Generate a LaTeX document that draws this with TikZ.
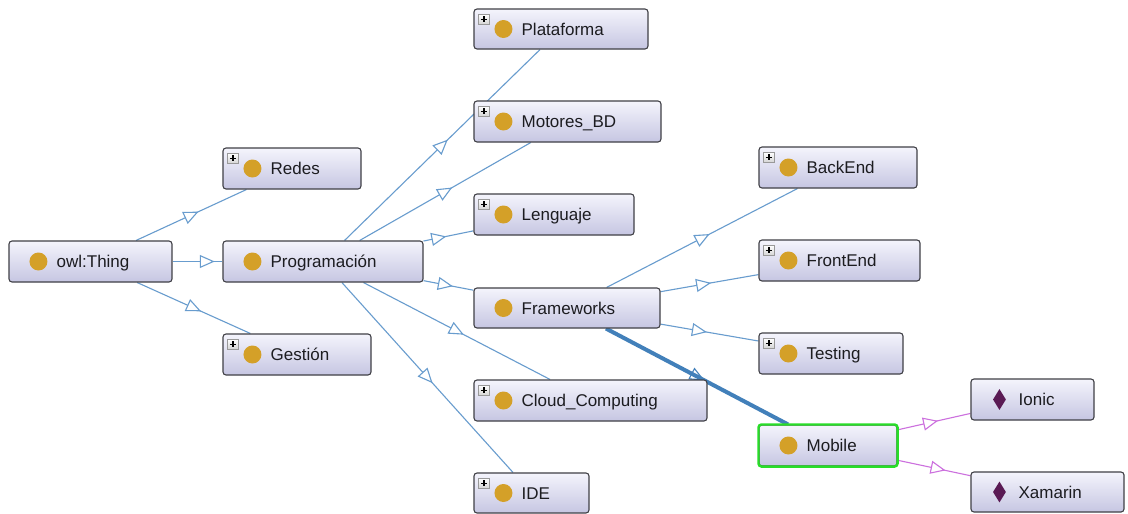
\documentclass[tikz,border=0pt]{standalone}
\usepackage{fontspec}
\setmainfont{Liberation Sans}
\usetikzlibrary{arrows.meta,decorations.markings,shapes.geometric}

\definecolor{boxtop}{RGB}{244,244,252}
\definecolor{boxbot}{RGB}{198,198,226}
\definecolor{boxline}{RGB}{64,64,70}
\definecolor{classdot}{RGB}{212,160,40}
\definecolor{indiv}{RGB}{90,26,84}
\definecolor{isaedge}{RGB}{104,156,206}
\definecolor{seledge}{RGB}{66,128,186}
\definecolor{instedge}{RGB}{204,112,222}
\definecolor{selgreen}{RGB}{40,222,40}
\definecolor{labeltext}{RGB}{28,28,32}

\pgfdeclarelayer{background}
\pgfsetlayers{background,main}

\tikzset{
  clsbox/.style={rectangle, rounded corners=3, draw=boxline, line width=1.1,
    top color=boxtop, bottom color=boxbot, inner sep=0},
  selbox/.style={draw=selgreen, line width=2.4, rounded corners=3},
  dot/.style={circle, fill=classdot, minimum size=18, inner sep=0},
  gem/.style={diamond, fill=indiv, minimum width=13, minimum height=21, inner sep=0},
  lbl/.style={inner sep=0, anchor=base west, text=labeltext,
    font=\fontsize{17}{20}\selectfont},
  plusicon/.style={rectangle, minimum size=10.5, inner sep=0, draw=gray!80,
    line width=0.6, top color=white, bottom color=gray!35,
    path picture={\draw[black, line width=1.1]
      (path picture bounding box.center) +(-3,0) -- +(3,0)
      (path picture bounding box.center) +(0,-3) -- +(0,3);}},
  % hollow triangle halfway between the two box centres
  midtip/.style={decoration={markings, mark=at position 0.5 with
      {\arrow[xshift=8pt]{Triangle[length=15pt, width=13pt, fill=white, line width=1.1pt]}}},
    postaction=decorate},
  isa/.style={draw=isaedge, line width=1.1},
  isasel/.style={draw=seledge, line width=4},
  inst/.style={draw=instedge, line width=1.1},
  isa tip/.style={color=isaedge, midtip},
  isasel tip/.style={color=seledge, midtip},
  inst tip/.style={color=instedge, midtip},
}

% box frame: name, left, top, right, bottom
\newcommand\frameat[5]{%
  \node[clsbox, minimum width={#4-#2}, minimum height={#5-#3}] (#1)
    at ({(#2+#4)/2},{(#3+#5)/2}) {};}
% class box: name, left, top, right, bottom, text
\newcommand\classbox[6]{%
  \frameat{#1}{#2}{#3}{#4}{#5}
  \node[dot] (#1-dot) at ([xshift=30]#1.west) {};
  \node[lbl] (#1-lbl) at ([xshift=48,yshift=-6.2]#1.west) {#6};}
% class box with an expand icon
\newcommand\classboxplus[6]{%
  \classbox{#1}{#2}{#3}{#4}{#5}{#6}
  \node[plusicon] (#1-plus) at ([xshift=10.5,yshift=-11]#1.north west) {};}
% individual box: name, left, top, right, bottom, text
\newcommand\indivbox[6]{%
  \frameat{#1}{#2}{#3}{#4}{#5}
  \node[gem] (#1-gem) at ([xshift=29]#1.west) {};
  \node[lbl] (#1-lbl) at ([xshift=48,yshift=-6.2]#1.west) {#6};}
% link: kind, from, to (triangle drawn over the line)
\newcommand\link[3]{%
  \draw[#1] (#2) -- (#3);
  \path[#1 tip] (#2.center) -- (#3.center);}
% selected link: the heavy line runs over its triangle
\newcommand\linkunder[3]{%
  \path[#1 tip] (#2.center) -- (#3.center);
  \draw[#1] (#2) -- (#3);}

\begin{document}
\begin{tikzpicture}[x=1pt, y=-1pt]
\useasboundingbox (0,0) rectangle (1128,514);

% class hierarchy
\classbox{thing}{9}{241}{172}{282}{owl:Thing}
\classboxplus{redes}{223}{148}{361}{189}{Redes}
\classbox{prog}{223}{241}{423}{282}{Programación}
\classboxplus{gestion}{223}{334}{371}{375}{Gestión}

\classboxplus{plataforma}{474}{9}{648}{49}{Plataforma}
\classboxplus{motores}{474}{101}{661}{142}{Motores\_BD}
\classboxplus{lenguaje}{474}{194}{634}{235}{Lenguaje}
\classbox{frameworks}{474}{288}{660}{328}{Frameworks}
\classboxplus{cloud}{474}{380}{707}{421}{Cloud\_Computing}
\classboxplus{ide}{474}{473}{589}{513}{IDE}

\classboxplus{backend}{759}{147}{917}{188}{BackEnd}
\classboxplus{frontend}{759}{240}{920}{281}{FrontEnd}
\classboxplus{testing}{759}{333}{903}{374}{Testing}
\classbox{mobile}{759}{425}{897}{466}{Mobile}
% selected class outline
\draw[selbox] (mobile.north west) rectangle (mobile.south east);

\indivbox{ionic}{971}{379}{1094}{420}{Ionic}
\indivbox{xamarin}{971}{472}{1124}{512}{Xamarin}

% white canvas, then subclass and instance links, all under the boxes
\begin{pgfonlayer}{background}
  \fill[white] (0,0) rectangle (1128,514);
  \link{isa}{thing}{redes}
  \link{isa}{thing}{prog}
  \link{isa}{thing}{gestion}
  \link{isa}{prog}{plataforma}
  \link{isa}{prog}{motores}
  \link{isa}{prog}{lenguaje}
  \link{isa}{prog}{frameworks}
  \link{isa}{prog}{cloud}
  \link{isa}{prog}{ide}
  \link{isa}{frameworks}{backend}
  \link{isa}{frameworks}{frontend}
  \link{isa}{frameworks}{testing}
  \linkunder{isasel}{frameworks}{mobile}
  \link{inst}{mobile}{ionic}
  \link{inst}{mobile}{xamarin}
\end{pgfonlayer}
\end{tikzpicture}
\end{document}
